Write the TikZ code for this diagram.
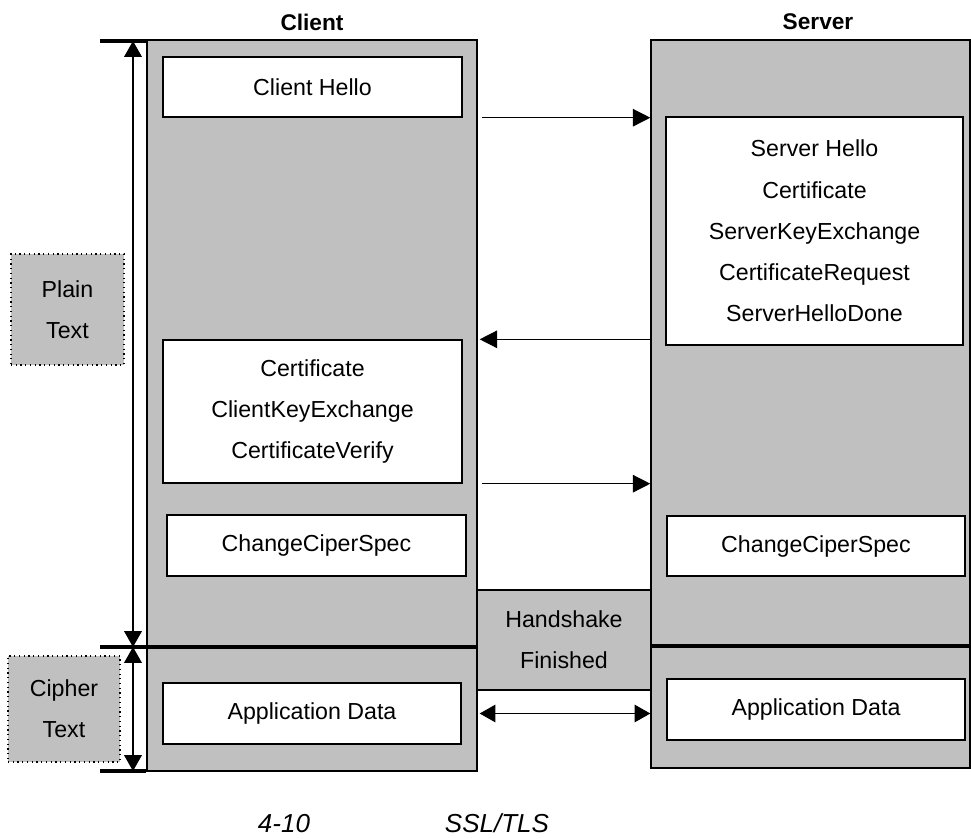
\documentclass[tikz,border=0pt]{standalone}
\usepackage{fontspec}
\setmainfont{Liberation Sans}
\definecolor{colgray}{RGB}{192, 192, 192}
\usepackage{tikz}
\usetikzlibrary{arrows.meta, positioning, calc}

\begin{document}
\begin{tikzpicture}[
  x=0.02cm, y=-0.02cm,
  column/.style={draw, line width=0.8pt, fill=colgray, inner sep=0pt},
  msgbox/.style={draw, line width=0.8pt, fill=white, align=center, inner sep=0pt,
    font=\fontsize{13.2}{23.5}\selectfont},
  tagbox/.style={draw, dotted, line width=0.7pt, fill=colgray, align=center, inner sep=0pt,
    font=\fontsize{13.2}{23.5}\selectfont},
  msg/.style={line width=0.8pt, -{Triangle[length=10pt, width=10pt]}},
  span/.style={line width=0.8pt, {Triangle[length=9pt, width=10pt]}-{Triangle[length=9pt, width=10pt]}},
  tick/.style={line width=2.3pt},
  head/.style={font=\fontsize{12.9}{15}\selectfont\bfseries},
  caption/.style={font=\fontsize{14.8}{17}\selectfont\itshape, anchor=base}
]
  \useasboundingbox (0,0) rectangle (971,839);

  % the two columns
  \node[column, minimum width=6.6cm, minimum height=14.62cm] (client) at (312, 405.5) {};
  \node[column, minimum width=6.38cm, minimum height=14.56cm] (server) at (810.5, 404) {};
  \node[head] (clienthead) at (312, 22) {Client};
  \node[head] (serverhead) at (818, 22) {Server};

  % messages
  \node[msgbox, minimum width=5.98cm, minimum height=1.2cm] (chello) at (312.5, 87) {Client Hello};
  \node[msgbox, minimum width=5.94cm, minimum height=4.56cm] (shello) at (814.5, 231)
    {Server Hello\\Certificate\\ServerKeyExchange\\CertificateRequest\\ServerHelloDone};
  \node[msgbox, minimum width=5.98cm, minimum height=2.86cm] (ccert) at (312.5, 411.5)
    {Certificate\\ClientKeyExchange\\CertificateVerify};
  \node[msgbox, minimum width=5.98cm, minimum height=1.22cm] (cspec) at (316.5, 545.5) {ChangeCiperSpec};
  \node[msgbox, minimum width=5.96cm, minimum height=1.2cm] (sspec) at (816, 546) {ChangeCiperSpec};
  \node[msgbox, minimum width=5.96cm, minimum height=1.22cm] (cdata) at (312, 713.5) {Application Data};
  \node[msgbox, minimum width=5.96cm, minimum height=1.22cm] (sdata) at (816, 709.5) {Application Data};

  % plain / cipher separation
  \coordinate (ptop) at (100, 41);
  \coordinate (psep) at (100, 647);
  \coordinate (pbot) at (100, 771);
  \coordinate (ssep) at (651, 646);
  \draw[tick] (ptop) -- (ptop -| client.west);
  \draw[tick] (psep) -- (psep -| client.east);
  \draw[tick] (pbot) -- (pbot -| client.west);
  \draw[tick] (ssep) -- (ssep -| server.east);
  \node[column, align=center, minimum width=3.48cm, minimum height=2cm,
    font=\fontsize{13.2}{23.5}\selectfont] (finish) at (564, 640) {Handshake\\Finished};

  \draw[span] ([xshift=0.66cm]ptop) -- ([xshift=0.66cm]psep);
  \draw[span] ([xshift=0.66cm]psep) -- ([xshift=0.66cm]pbot);
  \node[tagbox, minimum width=2.26cm, minimum height=2.22cm] (plain) at (67.5, 309.5) {Plain\\Text};
  \node[tagbox, minimum width=2.24cm, minimum height=2.12cm] (cipher) at (64, 709) {Cipher\\Text};

  % arrows between the columns
  \draw[msg] ([xshift=0.08cm]client.east |- chello.south) -- (server.west |- chello.south);
  \draw[msg] (server.west |- ccert.north) -- ([xshift=0.04cm]client.east |- ccert.north);
  \draw[msg] ([xshift=0.08cm]client.east |- ccert.south) -- (server.west |- ccert.south);
  \draw[span] ([xshift=0.04cm]client.east |- cdata.center) -- (server.west |- cdata.center);

  % caption
  \node[caption] (capnum) at (284, 832) {4-10};
  \node[caption] (capname) at (497, 832) {SSL/TLS};
\end{tikzpicture}
\end{document}
